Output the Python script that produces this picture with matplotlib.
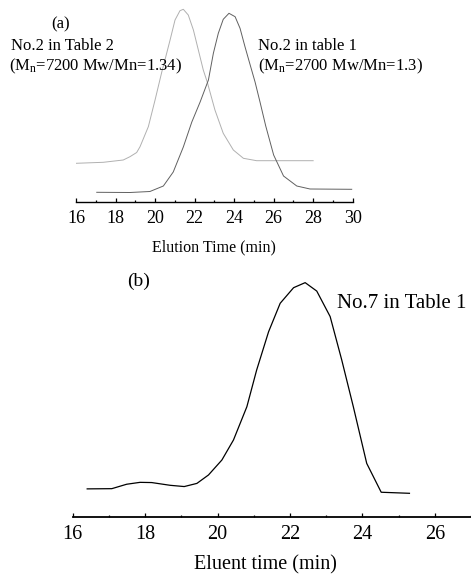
import matplotlib
matplotlib.use("Agg")
import matplotlib.pyplot as plt
from matplotlib.ticker import MultipleLocator

plt.rcParams["font.family"] = ["Liberation Serif", "DejaVu Serif"]
plt.rcParams["mathtext.fontset"] = "custom"
plt.rcParams["mathtext.rm"] = "Liberation Serif"

# (a) GPC traces, elution time (min) vs detector signal (arb. units, stacked)
t_table2 = [16.0, 17.38, 18.39, 18.73, 19.07, 19.24, 19.66, 20.0, 20.34, 20.5,
            20.76, 21.01, 21.26, 21.43, 21.68, 21.94, 22.19, 22.44, 22.64,
            23.03, 23.45, 23.96, 24.47, 25.14, 28.0]
s_table2 = [38.7, 39.7, 42.0, 45.3, 49.5, 55.3, 75.3, 102.0, 130.0, 142.0,
            162.0, 182.0, 191.3, 192.7, 187.0, 172.0, 152.0, 132.0, 120.0,
            92.0, 68.7, 52.0, 43.7, 41.3, 41.3]

t_table1 = [17.05, 18.73, 19.74, 20.42, 20.92, 21.43, 21.86, 22.28, 22.7,
            22.95, 23.2, 23.45, 23.74, 24.05, 24.3, 24.55, 24.77, 25.06, 25.31,
            25.6, 26.0, 26.5, 27.17, 27.84, 29.95]
s_table1 = [9.7, 9.5, 10.5, 16.0, 30.0, 55.0, 80.0, 100.0, 122.0,
            148.7, 168.7, 182.7, 188.7, 185.3, 173.7, 155.3, 140.0, 120.0, 100.0,
            76.0, 47.0, 26.0, 16.0, 13.0, 12.7]

# (b) No.7 in Table 1
t_no7 = [16.4, 17.08, 17.49, 17.86, 18.18, 18.69, 19.08, 19.43, 19.75, 20.12,
         20.44, 20.81, 21.08, 21.41, 21.73, 22.1, 22.42, 22.74, 23.11, 23.43,
         23.75, 24.12, 24.52, 25.3]
s_no7 = [2.1, 2.2, 4.3, 5.2, 5.1, 3.8, 3.2, 4.7, 8.7, 15.8,
         25.3, 41.1, 58.5, 76.7, 90.2, 97.6, 100.0, 96.0, 83.9, 63.3,
         41.1, 14.2, 0.5, 0.0]

W, H = 471, 575
fig = plt.figure(figsize=(W / 100, H / 100), dpi=100)


def px(x, y):
    return x / W, 1 - y / H


def style_axis(ax, fs):
    for side in ["left", "right", "top"]:
        ax.spines[side].set_visible(False)
    ax.spines["bottom"].set_linewidth(1.0)
    ax.set_yticks([])
    ax.xaxis.set_major_locator(MultipleLocator(2))
    ax.xaxis.set_minor_locator(MultipleLocator(1))
    ax.tick_params(axis="x", which="major", direction="in", length=3.2,
                   width=0.9, labelsize=fs, pad=6)
    ax.tick_params(axis="x", which="minor", direction="in", length=1.8,
                   width=0.9)
    ax.patch.set_alpha(0)


# panel (a)
ax_a = fig.add_axes([76 / W, 1 - 202 / H, (352.7 - 76) / W, 202 / H])
ax_a.plot(t_table2, s_table2, color="#b0b0b0", lw=0.7)
ax_a.plot(t_table1, s_table1, color="#606060", lw=0.7)
ax_a.set_xlim(16, 30)
ax_a.set_ylim(0, 202)
style_axis(ax_a, 13)
ax_a.set_xlabel("Elution Time (min)", fontsize=11.5, labelpad=9)

fig.text(*px(61, 24), "(a)", fontsize=12, ha="center", va="center")
fig.text(*px(11, 46), "No.2 in Table 2", fontsize=12, ha="left", va="center")
fig.text(*px(9, 66), r"(M$\mathregular{_n}$=7200 Mw/Mn=1.34)", fontsize=12,
         ha="left", va="center")
fig.text(*px(258, 46), "No.2 in table 1", fontsize=12, ha="left", va="center")
fig.text(*px(258, 66), r"(M$\mathregular{_n}$=2700 Mw/Mn=1.3)", fontsize=12,
         ha="left", va="center")

# panel (b)
ax_b = fig.add_axes([72.7 / W, 1 - 517 / H, (W - 72.7) / W, (517 - 270) / H])
ax_b.plot(t_no7, s_no7, color="black", lw=0.9)
ax_b.set_xlim(16, 27)
ax_b.set_ylim(-11.25, 106.0)
style_axis(ax_b, 14.5)
ax_b.spines["bottom"].set_linewidth(1.3)

fig.text(*px(139, 281), "(b)", fontsize=14, ha="center", va="center")
fig.text(*px(337, 304), "No.7 in Table 1", fontsize=15, ha="left", va="center")
fig.text(*px(265, 565), "Eluent time (min)", fontsize=14.5, ha="center",
         va="center")

fig.savefig("out.png", dpi=100)
